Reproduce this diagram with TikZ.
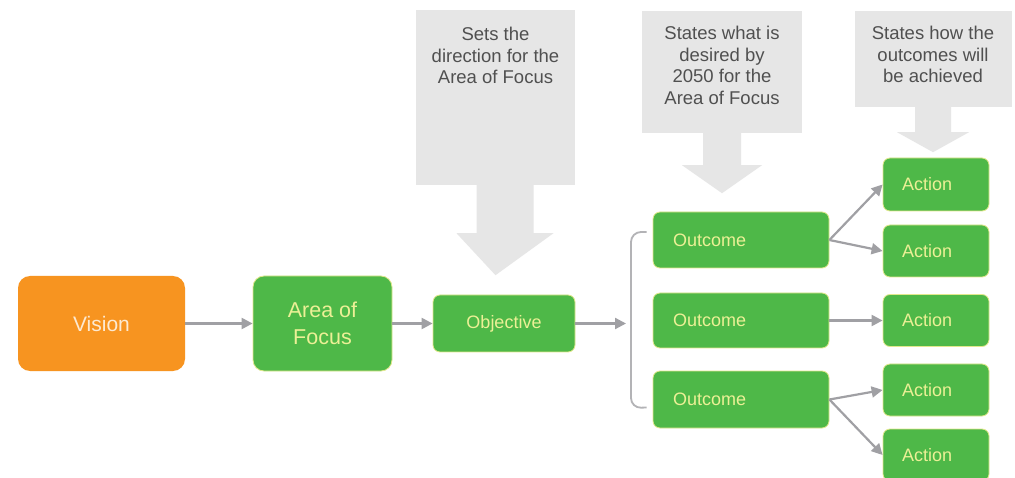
\documentclass[tikz,border=0pt]{standalone}
\usepackage{fontspec}
\setmainfont{Liberation Sans}
\usetikzlibrary{arrows.meta,calc}
\definecolor{gfill}{RGB}{78,184,72}
\definecolor{gline}{RGB}{226,232,140}
\definecolor{gtext}{RGB}{236,240,150}
\definecolor{ofill}{RGB}{247,148,32}
\definecolor{calloutc}{RGB}{230,230,230}
\definecolor{ctext}{RGB}{80,80,80}
\definecolor{arrc}{RGB}{160,160,164}
\tikzset{
  x=1pt, y=-1pt,
  gbox/.style={draw=gline, line width=0.8pt, fill=gfill, rounded corners=7pt, inner sep=0pt, text=gtext, font=\fontsize{18}{21}\selectfont},
  bigbox/.style={gbox, rounded corners=11pt, minimum width=139pt, minimum height=95pt, align=center, font=\fontsize{21.5}{27}\selectfont},
  callout/.style={fill=calloutc, inner sep=0pt},
  ctxt/.style={text=ctext, align=center, font=\fontsize{18.5}{21.5}\selectfont, inner sep=0pt, anchor=north},
  conn/.style={draw=arrc, line width=2.2pt, -{Triangle[length=11pt,width=11pt]}},
}
\begin{document}
\begin{tikzpicture}
\useasboundingbox (0,0) rectangle (1015,478);
\clip (0,0) rectangle (1015,478);
\fill[white] (0,0) rectangle (1015,478);

% callouts
\node[callout, minimum width=159pt, minimum height=175pt] (c1) at (495.5,97.5) {};
\node[ctxt] (c1t) at (495.5,27) {Sets the\\direction for the\\Area of Focus};
\fill[calloutc] ($(c1.south)+(-19,0)$) -- ++(0,48) -- ++(-20,0) -- ($(c1.south)+(0,90)$) -- ($(c1.south)+(58,48)$) -- ++(-20,0) -- ++(0,-48) -- cycle;

\node[callout, minimum width=160pt, minimum height=122pt] (c2) at (722,72) {};
\node[ctxt] (c2t) at (722,26) {States what is\\desired by\\2050 for the\\Area of Focus};
\fill[calloutc] ($(c2.south)+(-19,0)$) -- ++(0,32) -- ++(-21,0) -- ($(c2.south)+(0,60)$) -- ($(c2.south)+(40,32)$) -- ++(-21,0) -- ++(0,-32) -- cycle;

\node[callout, minimum width=157pt, minimum height=96pt] (c3) at (933,59) {};
\node[ctxt] (c3t) at (933,26) {States how the\\outcomes will\\be achieved};
\fill[calloutc] ($(c3.south)+(-18,0)$) -- ++(0,25) -- ++(-18,0) -- ($(c3.south)+(0,45)$) -- ($(c3.south)+(36,25)$) -- ++(-18,0) -- ++(0,-25) -- cycle;

% main boxes
\node[fill=ofill, rounded corners=12pt, minimum width=167pt, minimum height=95pt, inner sep=0pt,
      text=white!80!ofill, font=\fontsize{21}{27}\selectfont] (vision) at (101.5,323.5) {Vision};
\node[bigbox] (aof) at (322.5,323.5) {Area of\\Focus};
\node[gbox, minimum width=142pt, minimum height=57pt] (obj) at (504,323.5) {Objective};

\node[gbox, minimum width=176pt, minimum height=56pt, text width=136pt, align=left] (o1) at (741,240) {Outcome};
\node[gbox, minimum width=176pt, minimum height=55pt, text width=136pt, align=left] (o2) at (741,320.5) {Outcome};
\node[gbox, minimum width=176pt, minimum height=57pt, text width=136pt, align=left] (o3) at (741,399.5) {Outcome};

\node[gbox, minimum width=106pt, minimum height=53pt, text width=68pt, align=left] (a1) at (936,184.5) {Action};
\node[gbox, minimum width=106pt, minimum height=52pt, text width=68pt, align=left] (a2) at (936,251) {Action};
\node[gbox, minimum width=106pt, minimum height=52pt, text width=68pt, align=left] (a3) at (936,320.5) {Action};
\node[gbox, minimum width=106pt, minimum height=52pt, text width=68pt, align=left] (a4) at (936,390) {Action};
\node[gbox, minimum width=106pt, minimum height=52pt, text width=68pt, align=left] (a5) at (936,455) {Action};

% connectors
\draw[conn] (vision.east) -- (aof.west);
\draw[conn] (aof.east) -- (obj.west);
\coordinate (br) at (626,323.5);
\draw[conn] (obj.east) -- (br);
\draw[draw=arrc!80, line width=1.8pt, rounded corners=10pt] ($(o1.west)+(-6,-8)$) -- (631,232) -- (631,408) -- ($(o3.west)+(-6,8)$);

\draw[conn] (o1.east) -- (a1.west);
\draw[conn] (o1.east) -- (a2.west);
\draw[conn] (o2.east) -- (a3.west);
\draw[conn] (o3.east) -- (a4.west);
\draw[conn] (o3.east) -- (a5.west);
\end{tikzpicture}
\end{document}
